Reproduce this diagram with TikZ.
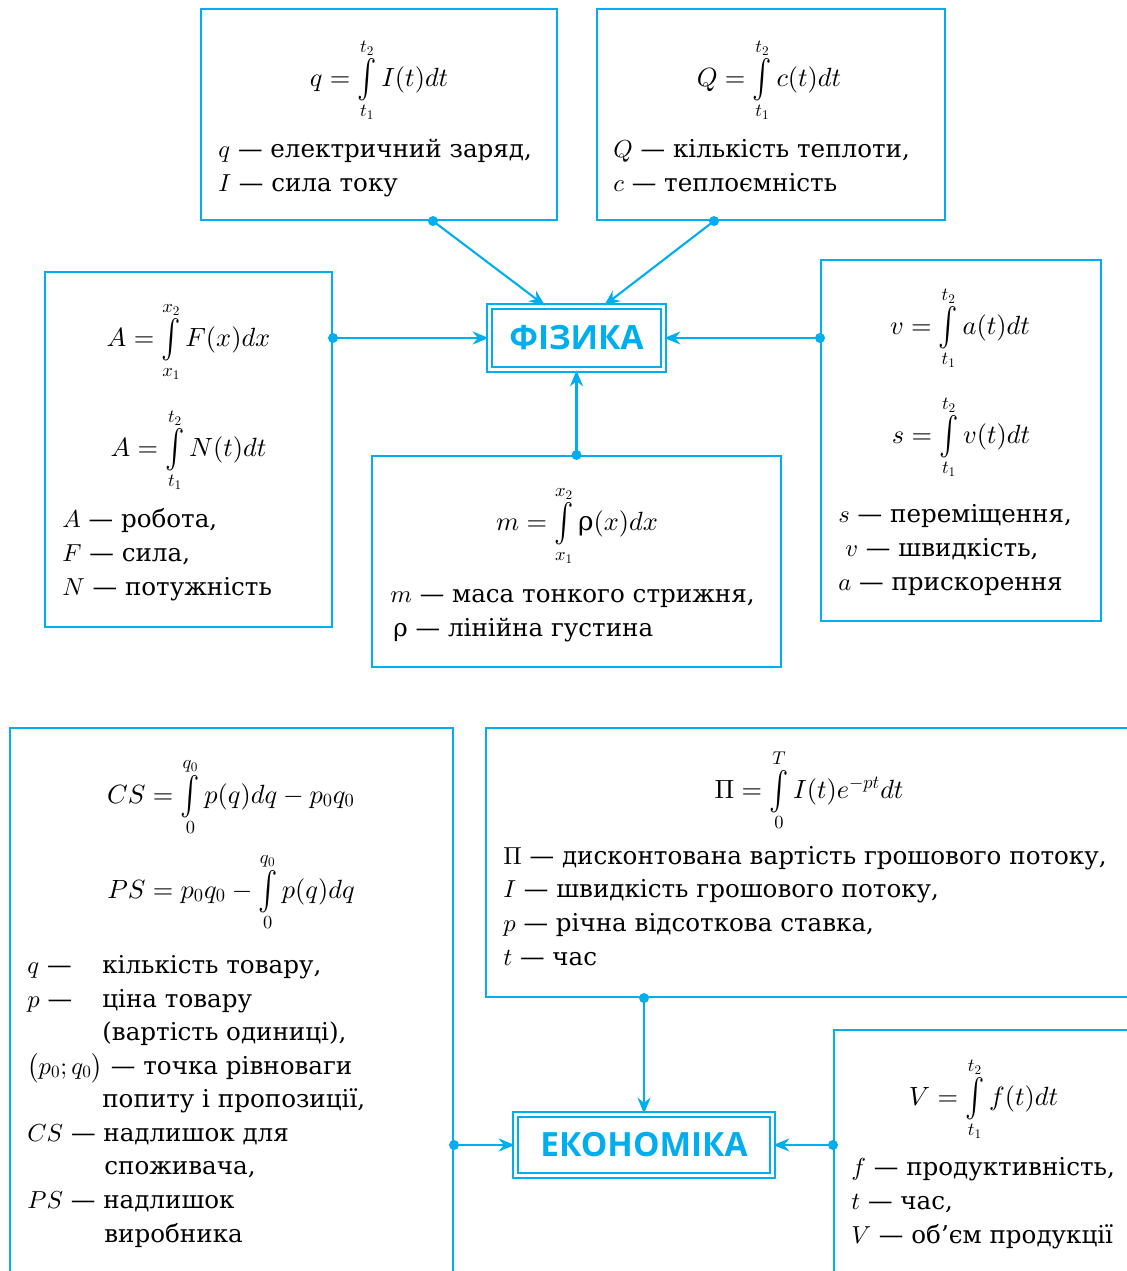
\documentclass[tikz,border=0pt]{standalone}
\usepackage{graphicx}
\usepackage{fontspec}
\setmainfont{DejaVu Serif}
\newfontfamily\hubfont{Open Sans}
\usetikzlibrary{arrows.meta}
% scalable math fonts
\DeclareFontShape{OML}{cmm}{m}{it}{<->cmmi10}{}
\DeclareFontShape{OMS}{cmsy}{m}{n}{<->cmsy10}{}
\DeclareFontShape{OMX}{cmex}{m}{n}{<->cmex10}{}
\DeclareFontShape{OT1}{cmr}{m}{n}{<->cmr10}{}
\definecolor{schemeblue}{RGB}{0,174,239}
\newcommand{\ilim}[2]{\mathop{\vcenter{\hbox{\scalebox{1.1}[1.45]{$\textstyle\int$}}}}\limits_{#1}^{#2}}

\begin{document}
\begin{tikzpicture}[x=0.02cm, y=-0.02cm,
    box/.style={draw=schemeblue, line width=1.2pt, inner sep=0},
    hub/.style={draw=schemeblue, double=white, line width=1pt, double distance=1.6pt, inner sep=0,
        text=schemeblue, font=\hubfont\bfseries\fontsize{19}{22}\selectfont},
    fml/.style={anchor=base, inner sep=0, font=\fontsize{15}{19}\selectfont},
    desc/.style={anchor=base west, inner sep=0, align=left, font=\fontsize{14}{19.1}\selectfont},
    link/.style={draw=schemeblue, line width=1.2pt, -{Stealth[length=0.32cm, width=0.26cm]}}]
  \useasboundingbox (0,0) rectangle (1126,1271);

  % Physics (top)
  \node[hub, minimum width=3.48cm, minimum height=1.26cm] (fiz) at (576.5,338) {ФІЗИКА};

  \node[box, minimum width=7.12cm, minimum height=4.22cm] (qbox) at (379,114.5) {};
  \node[fml] (qfml) at (379,86) {$q=\ilim{t_1}{t_2} I(t)dt$};
  \node[desc] (qdesc) at (218,191) {$q$ — електричний заряд,\\ $I$ — сила току};

  \node[box, minimum width=6.96cm, minimum height=4.22cm] (heatbox) at (771,114.5) {};
  \node[fml] (heatfml) at (769,86) {$Q=\ilim{t_1}{t_2} c(t)dt$};
  \node[desc] (heatdesc) at (613,191) {$Q$ — кількість теплоти,\\ $c$ — теплоємність};

  \node[box, minimum width=5.74cm, minimum height=7.10cm] (workbox) at (188.5,449.5) {};
  \node[fml] (workfml) at (188.5,346) {$A=\ilim{x_1}{x_2} F(x)dx$};
  \node[fml] (powfml) at (188.5,456) {$A=\ilim{t_1}{t_2} N(t)dt$};
  \node[desc] (workdesc) at (62,595) {$A$ — робота,\\ $F$ — сила,\\ $N$ — потужність};

  \node[box, minimum width=5.60cm, minimum height=7.22cm] (velbox) at (961,440.5) {};
  \node[fml] (velfml) at (960,334) {$v=\ilim{t_1}{t_2} a(t)dt$};
  \node[fml] (pathfml) at (961,443) {$s=\ilim{t_1}{t_2} v(t)dt$};
  \node[desc] (veldesc) at (838,590) {$s$ — переміщення,\\ \hspace*{0.14cm}$v$ — швидкість,\\ $a$ — прискорення};

  \node[box, minimum width=8.18cm, minimum height=4.22cm] (massbox) at (576.5,561.5) {};
  \node[fml] (massfml) at (577,530) {$m=\ilim{x_1}{x_2} \mbox{ρ}(x)dx$};
  \node[desc] (massdesc) at (390,636) {$m$ — маса тонкого стрижня,\\ \hspace*{0.06cm}ρ — лінійна густина};

  \coordinate (qdot) at ([xshift=1.08cm]qbox.south);
  \coordinate (heatdot) at ([xshift=-1.14cm]heatbox.south);
  \coordinate (workdot) at (workbox.east |- fiz.west);
  \coordinate (veldot) at (velbox.west |- fiz.east);
  \coordinate (massdot) at (fiz.south |- massbox.north);
  \foreach \d in {qdot,heatdot,workdot,veldot,massdot}
    \fill[schemeblue] (\d) circle (0.1cm);
  \draw[link] (qdot) -- ([xshift=-0.63cm]fiz.north);
  \draw[link] (heatdot) -- ([xshift=0.55cm]fiz.north);
  \draw[link] (workdot) -- (fiz.west);
  \draw[link] (veldot) -- (fiz.east);
  \draw[link] (massdot) -- (fiz.south);

  % Economics (bottom)
  \node[hub, minimum width=5.14cm, minimum height=1.22cm] (econ) at (644,1145) {ЕКОНОМІКА};

  \node[box, minimum width=8.86cm, minimum height=10.94cm] (surplusbox) at (231.5,1001.5) {};
  \node[fml] (csfml) at (231,803) {$CS=\ilim{0}{q_0} p(q)dq-p_0q_0$};
  \node[fml] (psfml) at (231,898) {$PS=p_0q_0-\ilim{0}{q_0} p(q)dq$};
  \node[desc] (surplusdesc) at (27,1242) {\makebox[1.5cm][l]{$q$ —}кількість товару,\\
    \makebox[1.5cm][l]{$p$ —}ціна товару\\
    \hspace*{1.5cm}(вартість одиниці),\\
    $\Bigl(p_0;q_0\Bigr)$ — точка рівноваги\\
    \hspace*{1.5cm}попиту і пропозиції,\\
    $CS$ — надлишок для\\
    \hspace*{1.54cm}споживача,\\
    $PS$ — надлишок\\
    \hspace*{1.54cm}виробника};

  \node[box, minimum width=12.92cm, minimum height=5.38cm] (cashbox) at (809,862.5) {};
  \node[fml] (cashfml) at (809,798) {$\Pi=\ilim{0}{T} I(t)e^{-pt}dt$};
  \node[desc] (cashdesc) at (503,965) {$\Pi$ — дисконтована вартість грошового потоку,\\
    $I$ — швидкість грошового потоку,\\
    $p$ — річна відсоткова ставка,\\
    $t$ — час};

  \node[box, minimum width=5.96cm, minimum height=4.90cm] (volbox) at (983,1152.5) {};
  \node[fml] (volfml) at (983.5,1105) {$V=\ilim{t_1}{t_2} f(t)dt$};
  \node[desc] (voldesc) at (851,1243) {$f$ — продуктивність,\\ $t$ — час,\\ $V$ — об’єм продукції};

  \coordinate (surplusdot) at (surplusbox.east |- econ.west);
  \coordinate (cashdot) at (econ.north |- cashbox.south);
  \coordinate (voldot) at (volbox.west |- econ.east);
  \foreach \d in {surplusdot,cashdot,voldot}
    \fill[schemeblue] (\d) circle (0.1cm);
  \draw[link] (surplusdot) -- (econ.west);
  \draw[link] (cashdot) -- (econ.north);
  \draw[link] (voldot) -- (econ.east);
\end{tikzpicture}
\end{document}
